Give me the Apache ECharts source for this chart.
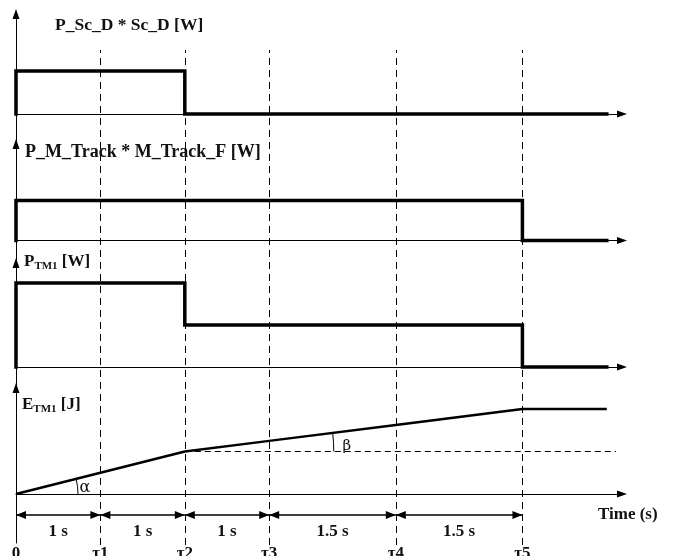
<!DOCTYPE html>
<html><head><meta charset="utf-8">
<script src="https://cdn.jsdelivr.net/npm/echarts@6/dist/echarts.min.js"></script>
<style>html,body{margin:0;padding:0;background:#fff}#c{width:686px;height:556px}</style>
</head><body><div id="c"></div>
<script>
// ---- data ----
const tauTimes = [0, 1, 2, 3, 4.5, 6];
const tauLabels = ['0', 'τ1', 'τ2', 'τ3', 'τ4', 'τ5'];
const intervalLabels = ['1 s', '1 s', '1 s', '1.5 s', '1.5 s'];
const scdPower = [[0, 0], [0, 1], [2, 1], [2, 0], [7, 0]];
const trackPower = [[0, 0], [0, 1], [6, 1], [6, 0], [7, 0]];
const tm1Power = [[0, 0], [0, 2], [2, 2], [2, 1], [6, 1], [6, 0], [7, 0]];
const tm1Energy = [[0, 0], [1, 2], [2, 4], [3, 5], [4.5, 6.5], [6, 8], [7, 8]];
const refLineEnd = 7.11;
const panelTitles = ['P_Sc_D * Sc_D [W]', 'P_M_Track * M_Track_F [W]', '{m|P}{s|TM1}{m| [W]}', '{m|E}{s|TM1}{m| [J]}'];
const axisTitle = 'Time (s)';

// ---- layout ----
const L = 16, W = 606, XMAX = 7.18;
const FONT = "'Liberation Serif','Times New Roman',serif";
const grids = [
  { left: L, width: W, top: 14, height: 130 },
  { left: L, width: W, top: 144, height: 119 },
  { left: L, width: W, top: 263, height: 125 },
  { left: L, width: W, top: 388, height: 155 },
  { left: L, width: W, top: 50, height: 495 },
  { left: L, width: W, top: 505, height: 20 }
].map(g => Object.assign(g, { containLabel: false, outerBoundsMode: 'none' }));
const yRanges = [[-0.6977, 2.3256], [-0.5625, 2.4125], [-0.5, 2.476], [-4.612, 9.976], [0, 1], [0, 1]];

const axisLineStyle = { color: '#000', width: 1 };
const xAxes = grids.map((g, i) => ({
  gridIndex: i, type: 'value', min: 0, max: XMAX,
  show: i < 4,
  axisLine: { show: true, onZero: true, symbol: ['none', 'triangle'], symbolSize: [7, 10], lineStyle: axisLineStyle },
  axisTick: { show: false },
  splitLine: { show: false },
  axisLabel: i === 3 ? {
    show: true, customValues: tauTimes, margin: 2,
    formatter: v => tauLabels[tauTimes.indexOf(v)],
    fontFamily: FONT, fontWeight: 'bold', fontSize: 17, color: '#111'
  } : { show: false }
}));
const yAxes = grids.map((g, i) => ({
  gridIndex: i, type: 'value', min: yRanges[i][0], max: yRanges[i][1],
  show: i < 4,
  axisLine: { show: true, onZero: false, symbol: ['none', 'triangle'], symbolSize: [7, 10], lineStyle: axisLineStyle },
  axisTick: { show: false }, axisLabel: { show: false }, splitLine: { show: false }
}));

const stepSeries = [scdPower, trackPower, tm1Power].map((d, i) => ({
  type: 'line', xAxisIndex: i, yAxisIndex: i, data: d, showSymbol: false, silent: true,
  lineStyle: { color: '#000', width: 3.5, cap: 'square', join: 'miter' }, z: 5
}));

const eAtTau2 = tm1Energy.find(p => p[0] === tauTimes[2])[1];
const series = stepSeries.concat([
  {
    type: 'line', xAxisIndex: 3, yAxisIndex: 3, data: tm1Energy, showSymbol: false, silent: true,
    lineStyle: { color: '#000', width: 2.5 }, z: 5,
    markLine: {
      silent: true, symbol: ['none', 'none'], label: { show: false },
      lineStyle: { color: '#000', width: 1, type: [6, 4] },
      data: [[{ coord: [tauTimes[2], eAtTau2] }, { coord: [refLineEnd, eAtTau2] }]]
    }
  },
  {
    type: 'lines', coordinateSystem: 'cartesian2d', xAxisIndex: 4, yAxisIndex: 4, silent: true,
    lineStyle: { color: '#000', width: 1, type: [7, 5], opacity: 1 },
    data: tauTimes.slice(1).map(t => ({ coords: [[t, 0], [t, 1]] })), z: 1
  },
  {
    type: 'line', xAxisIndex: 5, yAxisIndex: 5, data: [], silent: true,
    markLine: {
      silent: true, symbol: ['triangle', 'triangle'], symbolSize: [8, 10], symbolOffset: [[0, 5], [0, 5]],
      lineStyle: { color: '#000', width: 1.5, type: 'solid' },
      label: { show: true, position: 'insideMiddleBottom', distance: 8, formatter: '{b}',
        fontFamily: FONT, fontWeight: 'bold', fontSize: 17, color: '#111' },
      data: intervalLabels.map((lab, i) => [
        { name: lab, coord: [tauTimes[i], 0.5] },
        { coord: [tauTimes[i + 1], 0.5] }
      ])
    }
  }
]);

const titleTops = [15, 142, 252, 395];
const titleLefts = [55, 25, 24, 22];
const titleSizes = [17.5, 18, 17, 17];
const titles = panelTitles.map((t, i) => ({
  text: t, left: titleLefts[i], top: titleTops[i], padding: 0,
  textStyle: {
    fontFamily: FONT, fontWeight: 'bold', fontSize: titleSizes[i], color: '#111', lineHeight: 20,
    rich: {
      m: { fontFamily: FONT, fontWeight: 'bold', fontSize: 17, color: '#111', lineHeight: 20 },
      s: { fontFamily: FONT, fontWeight: 'bold', fontSize: 11, color: '#111', lineHeight: 20, verticalAlign: 'bottom', padding: [0, 0, 0, 0] }
    }
  }
})).concat([{
  text: axisTitle, left: 598, top: 505, padding: 0,
  textStyle: { fontFamily: FONT, fontWeight: 'bold', fontSize: 17, color: '#111', lineHeight: 20 }
}]);

const chart = echarts.init(document.getElementById('c'), null, { renderer: 'canvas' });
chart.setOption({
  animation: false, backgroundColor: '#fff',
  title: titles, grid: grids, xAxis: xAxes, yAxis: yAxes, series: series
});

// angle markers computed from the energy curve
const px = p => chart.convertToPixel({ xAxisIndex: 3, yAxisIndex: 3 }, p);
const o = px(tm1Energy[0]);
const p2 = px(tm1Energy[2]);
const p5 = px(tm1Energy[5]);
const aAng = Math.atan2(p2[1] - o[1], p2[0] - o[0]);
const bAng = Math.atan2(p5[1] - p2[1], p5[0] - p2[0]);
chart.setOption({
  graphic: [
    { type: 'arc', shape: { cx: o[0], cy: o[1], r: 62, startAngle: aAng, endAngle: 0 }, style: { stroke: '#000', fill: 'none', lineWidth: 1 }, silent: true },
    { type: 'arc', shape: { cx: p2[0], cy: p2[1], r: 149, startAngle: bAng, endAngle: 0 }, style: { stroke: '#000', fill: 'none', lineWidth: 1 }, silent: true },
    { type: 'text', x: o[0] + 69, y: o[1] - 6, style: { text: 'α', font: "16px 'DejaVu Serif', serif", fill: '#111', align: 'center', verticalAlign: 'middle' }, silent: true },
    { type: 'text', x: p2[0] + 162, y: p2[1] - 5, style: { text: 'β', font: "15px 'DejaVu Serif', serif", fill: '#111', align: 'center', verticalAlign: 'middle' }, silent: true }
  ]
});
</script></body></html>
